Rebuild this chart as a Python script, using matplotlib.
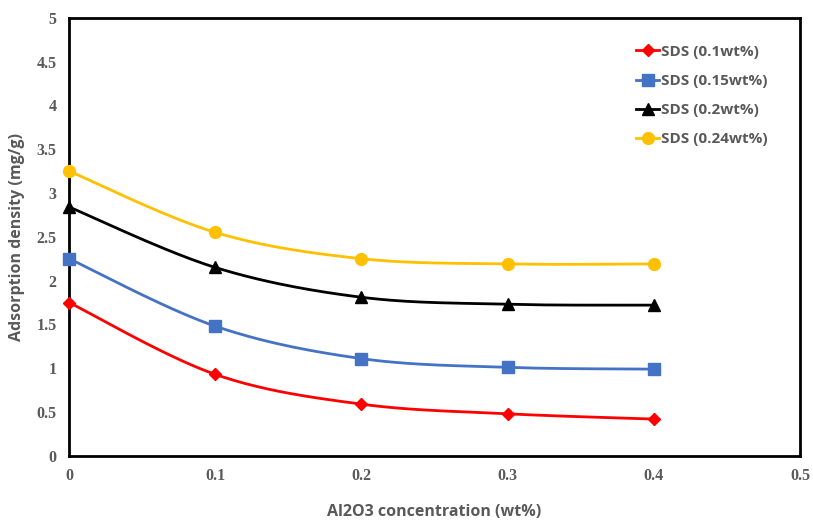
import numpy as np
import matplotlib
matplotlib.use("Agg")
import matplotlib.pyplot as plt

# Al2O3 concentration (wt%)
conc = [0, 0.1, 0.2, 0.3, 0.4]

sds_01 = [1.75, 0.93, 0.59, 0.48, 0.42]
sds_015 = [2.25, 1.48, 1.11, 1.01, 0.99]
sds_02 = [2.84, 2.15, 1.81, 1.73, 1.72]
sds_024 = [3.25, 2.55, 2.25, 2.19, 2.19]

labels = ["SDS (0.1wt%)", "SDS (0.15wt%)", "SDS (0.2wt%)", "SDS (0.24wt%)"]
colors = ["#ff0000", "#4472c4", "#000000", "#ffc000"]
markers = ["D", "s", "^", "o"]
msizes = [6.5, 8.5, 8.5, 8.5]


def smooth(x, y, n=40):
    # excel-like smoothed line (bezier through points)
    x = np.asarray(x, float)
    y = np.asarray(y, float)
    px, py = [], []
    for i in range(len(x) - 1):
        x0, y0 = x[i], y[i]
        x3, y3 = x[i + 1], y[i + 1]
        xm, ym = (x[i - 1], y[i - 1]) if i > 0 else (x0, y0)
        xp, yp = (x[i + 2], y[i + 2]) if i + 2 < len(x) else (x3, y3)
        x1, y1 = x0 + (x3 - xm) / 6, y0 + (y3 - ym) / 6
        x2, y2 = x3 - (xp - x0) / 6, y3 - (yp - y0) / 6
        t = np.linspace(0, 1, n)
        px.extend((1 - t) ** 3 * x0 + 3 * (1 - t) ** 2 * t * x1 + 3 * (1 - t) * t ** 2 * x2 + t ** 3 * x3)
        py.extend((1 - t) ** 3 * y0 + 3 * (1 - t) ** 2 * t * y1 + 3 * (1 - t) * t ** 2 * y2 + t ** 3 * y3)
    return px, py


fig = plt.figure(figsize=(8.13, 5.21), dpi=100)
ax = fig.add_axes([0.085, 0.125, 0.899, 0.841])

for ys, lab, c, m, ms in zip([sds_01, sds_015, sds_02, sds_024], labels, colors, markers, msizes):
    sx, sy = smooth(conc, ys)
    ax.plot(sx, sy, color=c, lw=2, zorder=3)
    ax.plot(conc, ys, linestyle="none", marker=m, color=c, markersize=ms, zorder=4, clip_on=False)
    ax.plot([], [], color=c, lw=2, marker=m, markersize=ms, label=lab)

ax.set_xlim(0, 0.5)
ax.set_ylim(0, 5)
ax.set_xticks([0, 0.1, 0.2, 0.3, 0.4, 0.5])
ax.set_xticklabels(["0", "0.1", "0.2", "0.3", "0.4", "0.5"])
ax.set_yticks([0, 0.5, 1, 1.5, 2, 2.5, 3, 3.5, 4, 4.5, 5])
ax.set_yticklabels(["0", "0.5", "1", "1.5", "2", "2.5", "3", "3.5", "4", "4.5", "5"])
ax.tick_params(length=0, pad=9, labelsize=11.5, labelcolor="#595959")
for lbl in ax.get_xticklabels() + ax.get_yticklabels():
    lbl.set_family("Liberation Serif")
    lbl.set_fontweight("bold")
for s in ax.spines.values():
    s.set_linewidth(2)
    s.set_color("black")
    s.set_zorder(2)

ax.set_xlabel("Al2O3 concentration (wt%)", fontsize=11.5, fontweight="bold",
              color="#595959", family="Open Sans", labelpad=14)
ax.set_ylabel("Adsorption density (mg/g)", fontsize=11.5, fontweight="bold",
              color="#595959", family="Open Sans", labelpad=8)

leg = ax.legend(loc="upper right", bbox_to_anchor=(0.975, 0.97), frameon=False,
                prop={"family": "Open Sans", "weight": "bold", "size": 11},
                handlelength=1.5, handletextpad=0.15, labelspacing=1.0)
for t in leg.get_texts():
    t.set_color("#595959")

fig.savefig("out.png", dpi=100)
